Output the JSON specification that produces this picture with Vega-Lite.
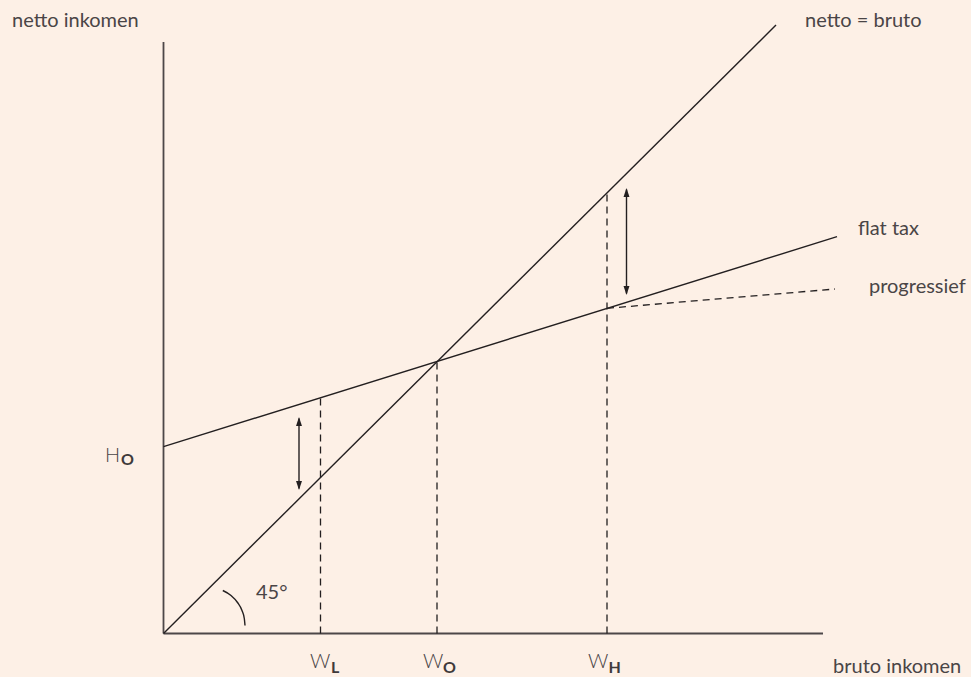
{
  "$schema": "https://vega.github.io/schema/vega-lite/v6.json",
  "width": 971,
  "height": 677,
  "autosize": {"type": "fit", "contains": "padding"},
  "padding": 0,
  "background": "#fdf0e6",
  "config": {"view": {"stroke": null}},
  "datasets": {
    "segments": [
      {"kind": "axis", "x": 0, "y": 0, "x2": 0, "y2": 591.5},
      {"kind": "axis", "x": 0, "y": 0, "x2": 659.5, "y2": 0},
      {"kind": "solid", "x": 0, "y": 0, "x2": 612.5, "y2": 608.5},
      {"kind": "solid", "x": 0, "y": 186.8, "x2": 673.5, "y2": 396.8},
      {"kind": "dashed", "x": 443.5, "y": 325.2, "x2": 671.5, "y2": 344.5},
      {"kind": "dashed", "x": 157, "y": 0, "x2": 157, "y2": 235.8},
      {"kind": "dashed", "x": 273.5, "y": 0, "x2": 273.5, "y2": 271.8},
      {"kind": "dashed", "x": 443.5, "y": 0, "x2": 443.5, "y2": 440.2},
      {"kind": "arrow", "x": 135.5, "y": 145, "x2": 135.5, "y2": 215},
      {"kind": "arrow", "x": 463, "y": 340, "x2": 463, "y2": 444}
    ],
    "heads": [
      {"dir": "up", "x": 135.5, "y": 216.5},
      {"dir": "down", "x": 135.5, "y": 143.5},
      {"dir": "up", "x": 463, "y": 445.5},
      {"dir": "down", "x": 463, "y": 338.5}
    ],
    "arc": [
      {"x": 59.3, "y": 43},
      {"x": 67.5, "y": 38},
      {"x": 74, "y": 31},
      {"x": 78.5, "y": 23},
      {"x": 80.8, "y": 15},
      {"x": 81.5, "y": 8}
    ],
    "labels": [
      {"kind": "main", "text": "netto inkomen", "x": -151.5, "y": 606.5},
      {"kind": "main", "text": "netto = bruto", "x": 641.5, "y": 606.5},
      {"kind": "main", "text": "flat tax", "x": 694.5, "y": 398.5},
      {"kind": "main", "text": "progressief", "x": 705.5, "y": 340.5},
      {"kind": "main", "text": "bruto inkomen", "x": 669.5, "y": -39.5},
      {"kind": "main", "text": "45°", "x": 92.5, "y": 34.5},
      {"kind": "big", "text": "H", "x": -58.5, "y": 171.5},
      {"kind": "big", "text": "W", "x": 146.5, "y": -34.5},
      {"kind": "big", "text": "W", "x": 259.5, "y": -34.5},
      {"kind": "big", "text": "W", "x": 424.5, "y": -34.5},
      {"kind": "sub", "text": "O", "x": -42.5, "y": 168.5},
      {"kind": "sub", "text": "L", "x": 167.5, "y": -39.5},
      {"kind": "sub", "text": "O", "x": 279.5, "y": -39.5},
      {"kind": "sub", "text": "H", "x": 445, "y": -39.5}
    ]
  },
  "encoding": {
    "x": {"field": "x", "type": "quantitative", "scale": {"domain": [-163.5, 807.5], "nice": false, "zero": false}, "axis": null},
    "y": {"field": "y", "type": "quantitative", "scale": {"domain": [-43.5, 633.5], "nice": false, "zero": false}, "axis": null}
  },
  "layer": [
    {
      "data": {"name": "segments"},
      "transform": [{"filter": "datum.kind === 'axis'"}],
      "mark": {"type": "rule", "color": "#4d4748", "strokeWidth": 1.8},
      "encoding": {"x2": {"field": "x2"}, "y2": {"field": "y2"}}
    },
    {
      "data": {"name": "segments"},
      "transform": [{"filter": "datum.kind === 'solid'"}],
      "mark": {"type": "rule", "color": "#231f20", "strokeWidth": 1.4},
      "encoding": {"x2": {"field": "x2"}, "y2": {"field": "y2"}}
    },
    {
      "data": {"name": "segments"},
      "transform": [{"filter": "datum.kind === 'dashed'"}],
      "mark": {"type": "rule", "color": "#231f20", "strokeWidth": 1.3, "strokeDash": [7, 5]},
      "encoding": {"x2": {"field": "x2"}, "y2": {"field": "y2"}}
    },
    {
      "data": {"name": "segments"},
      "transform": [{"filter": "datum.kind === 'arrow'"}],
      "mark": {"type": "rule", "color": "#231f20", "strokeWidth": 1.4},
      "encoding": {"x2": {"field": "x2"}, "y2": {"field": "y2"}}
    },
    {
      "data": {"name": "heads"},
      "transform": [{"filter": "datum.dir === 'up'"}],
      "mark": {"type": "point", "shape": "M0,0L-0.33,1L0.33,1Z", "size": 324, "filled": true, "color": "#231f20", "opacity": 1}
    },
    {
      "data": {"name": "heads"},
      "transform": [{"filter": "datum.dir === 'down'"}],
      "mark": {"type": "point", "shape": "M0,0L-0.33,-1L0.33,-1Z", "size": 324, "filled": true, "color": "#231f20", "opacity": 1}
    },
    {
      "data": {"name": "arc"},
      "mark": {"type": "line", "color": "#231f20", "strokeWidth": 1.4, "interpolate": "monotone"},
      "encoding": {"order": {"field": "x", "type": "quantitative"}}
    },
    {
      "data": {"name": "labels"},
      "transform": [{"filter": "datum.kind === 'main'"}],
      "mark": {"type": "text", "font": "Lato", "fontSize": 20, "fontWeight": "normal", "color": "#4a4546", "align": "left", "baseline": "alphabetic"},
      "encoding": {"text": {"field": "text"}}
    },
    {
      "data": {"name": "labels"},
      "transform": [{"filter": "datum.kind === 'big'"}],
      "mark": {"type": "text", "font": "Lato", "fontSize": 20, "fontWeight": 300, "color": "#4a4546", "align": "left", "baseline": "alphabetic"},
      "encoding": {"text": {"field": "text"}}
    },
    {
      "data": {"name": "labels"},
      "transform": [{"filter": "datum.kind === 'sub'"}],
      "mark": {"type": "text", "font": "Lato", "fontSize": 16, "fontWeight": "bold", "color": "#3f3a3b", "align": "left", "baseline": "alphabetic"},
      "encoding": {"text": {"field": "text"}}
    }
  ]
}
